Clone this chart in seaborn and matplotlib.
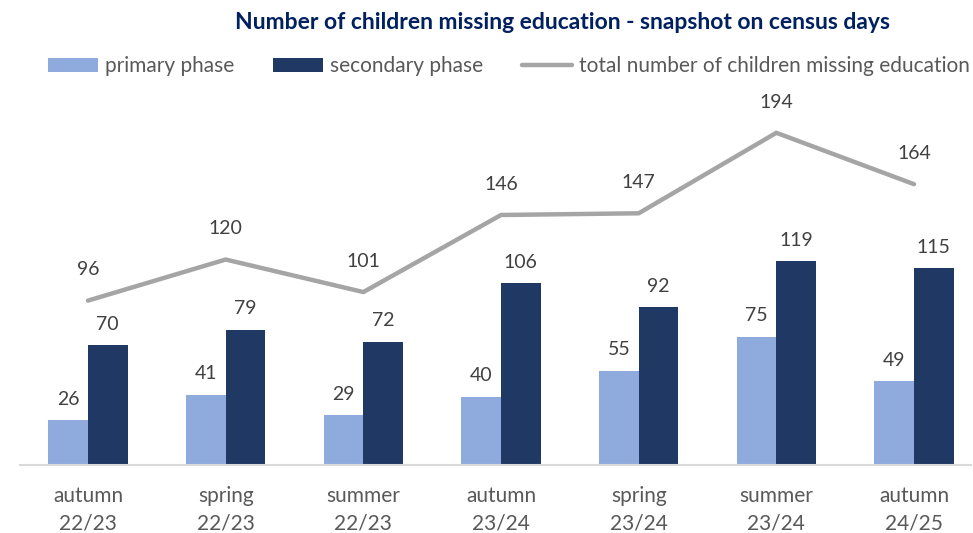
import matplotlib
matplotlib.use("Agg")
import matplotlib.pyplot as plt
import seaborn as sns
import pandas as pd
import numpy as np
from matplotlib.patches import Patch
from matplotlib.lines import Line2D

categories = ["autumn\n22/23", "spring\n22/23", "summer\n22/23", "autumn\n23/24",
              "spring\n23/24", "summer\n23/24", "autumn\n24/25"]
primary = [26, 41, 29, 40, 55, 75, 49]
secondary = [70, 79, 72, 106, 92, 119, 115]
total = [96, 120, 101, 146, 147, 194, 164]

series_names = ["primary phase", "secondary phase"]
line_name = "total number of children missing education"
title = "Number of children missing education - snapshot on census days"

c_primary = "#8FAADC"
c_secondary = "#203864"
c_line = "#A5A5A5"
c_text = "#404040"
c_tick = "#595959"

sns.set_theme(style="white")
plt.rcParams["font.family"] = ["Lato", "DejaVu Sans"]

df = pd.DataFrame({
    "period": categories * 2,
    "value": primary + secondary,
    "phase": [series_names[0]] * len(categories) + [series_names[1]] * len(categories),
})

fig = plt.figure(figsize=(9.73, 5.33), dpi=100)
ax = fig.add_axes([20 / 973, 68 / 533, 951 / 973, 375 / 533])

sns.barplot(data=df, x="period", y="value", hue="phase", order=categories,
            hue_order=series_names, palette=[c_primary, c_secondary],
            width=0.574, ax=ax, legend=False, saturation=1, edgecolor="none")

xs = np.arange(len(categories))
sns.lineplot(x=xs, y=total, color=c_line, linewidth=3.2, ax=ax, legend=False)

# value labels
for cont in ax.containers:
    ax.bar_label(cont, padding=9, fontsize=14, color=c_text)
for x, v in zip(xs, total):
    ax.annotate(str(v), (x, v), xytext=(0, 16), textcoords="offset points",
                ha="center", va="bottom", fontsize=14, color=c_text)

ax.set_xlim(-0.494, 6.414)
ax.set_ylim(0, 219)
ax.set_xlabel("")
ax.set_ylabel("")
ax.set_yticks([])
ax.tick_params(axis="x", length=0, pad=15, labelsize=15, labelcolor=c_tick)
for lbl in ax.get_xticklabels():
    lbl.set_linespacing(1.45)
for s in ["top", "right", "left"]:
    ax.spines[s].set_visible(False)
ax.spines["bottom"].set_color("#D9D9D9")
ax.spines["bottom"].set_linewidth(1.5)

fig.text(0.578, 0.957, title, ha="center", va="center", fontsize=16.5,
         fontweight="bold", color="#002060")

handles = [Patch(facecolor=c_primary, edgecolor="none"),
           Patch(facecolor=c_secondary, edgecolor="none"),
           Line2D([0], [0], color=c_line, linewidth=3.2)]
leg = fig.legend(handles, series_names + [line_name], loc="center",
                 bbox_to_anchor=(0.523, 0.876), ncol=3, frameon=False,
                 fontsize=15, handlelength=2.4, handleheight=0.7,
                 handletextpad=0.3, columnspacing=1.9)
for t in leg.get_texts():
    t.set_color(c_tick)

fig.savefig("out.png", dpi=100)
